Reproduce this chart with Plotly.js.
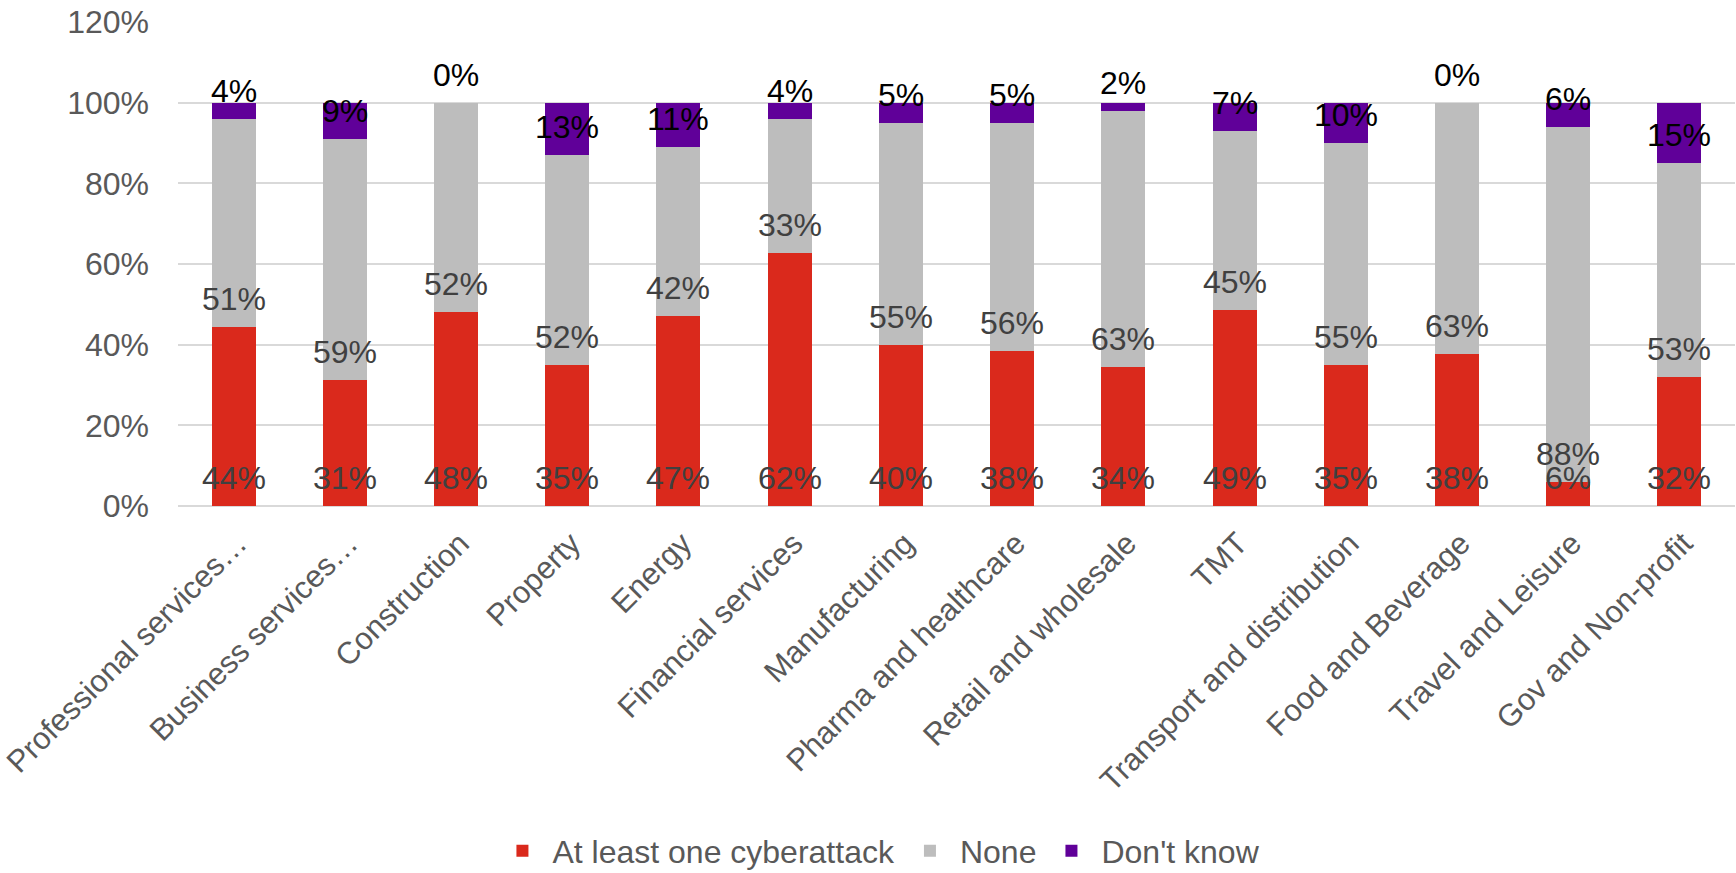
<!DOCTYPE html>
<html>
<head>
<meta charset="utf-8">
<script src="https://cdn.plot.ly/plotly-3.0.1.min.js"></script>
<style>
  html, body { margin: 0; padding: 0; background: #ffffff; }
  #chart { width: 1736px; height: 873px; }
</style>
</head>
<body>
<div id="chart"></div>
<script>
const categories = [
  "Professional services…", "Business services…", "Construction", "Property",
  "Energy", "Financial services", "Manufacturing", "Pharma and healthcare",
  "Retail and wholesale", "TMT", "Transport and distribution", "Food and Beverage",
  "Travel and Leisure", "Gov and Non-profit"
];
const attackValues   = [44, 31, 48, 35, 47, 62, 40, 38, 34, 49, 35, 38, 6, 32];
const noneValues     = [51, 59, 52, 52, 42, 33, 55, 56, 63, 45, 55, 63, 88, 53];
const dontKnowValues = [4, 9, 0, 13, 11, 4, 5, 5, 2, 7, 10, 0, 6, 15];
const seriesNames = ["At least one cyberattack", "None", "Don't know"];
const yTickValues = [0, 20, 40, 60, 80, 100, 120];

const colors = ["#DA291C", "#BDBDBD", "#600099"];
const labelColors = ["#404040", "#404040", "#000000"];
const series = [attackValues, noneValues, dontKnowValues];
const FONT = "Liberation Sans, Arial, sans-serif";

const traces = series.map((vals, k) => ({
  type: "bar",
  name: seriesNames[k],
  x: categories,
  y: vals,
  marker: { color: colors[k] },
  hoverinfo: "skip"
}));

// data labels at the base of each segment (normalised to 100%)
const annotations = [];
categories.forEach((cat, i) => {
  const total = attackValues[i] + noneValues[i] + dontKnowValues[i];
  let base = 0;
  series.forEach((vals, k) => {
    annotations.push({
      x: cat, y: base / total * 100, xref: "x", yref: "y",
      text: vals[i] + "%", showarrow: false,
      yanchor: "middle", yshift: 28,
      font: { family: FONT, size: 32, color: labelColors[k] }
    });
    base += vals[i];
  });
});

const layout = {
  width: 1736, height: 873,
  margin: { l: 178, r: 1, t: 22, b: 367 },
  paper_bgcolor: "#ffffff", plot_bgcolor: "#ffffff",
  barmode: "stack", barnorm: "percent", bargap: 0.604,
  font: { family: FONT, size: 32, color: "#595959" },
  xaxis: {
    type: "category", tickangle: -45, showgrid: false, zeroline: false,
    showline: false, ticks: "", ticklabelstandoff: 12, ticklabelshift: 4,
    tickfont: { size: 31, color: "#595959" }, fixedrange: true, automargin: false
  },
  yaxis: {
    range: [0, 120], tickvals: yTickValues, ticktext: yTickValues.map(v => v + "%"),
    showgrid: true, gridcolor: "#D9D9D9", gridwidth: 2, zeroline: true,
    zerolinecolor: "#D9D9D9", zerolinewidth: 2, showline: false, ticks: "",
    ticklabelstandoff: 28, tickfont: { size: 32, color: "#595959" }, fixedrange: true,
    automargin: false
  },
  showlegend: true,
  legend: {
    orientation: "h", xref: "container", yref: "container",
    x: 0.5063, xanchor: "center", y: 0.0252, yanchor: "middle",
    itemwidth: 50,
    font: { size: 32, color: "#595959" }, traceorder: "normal"
  },
  annotations: annotations
};

Plotly.newPlot("chart", traces, layout, { displayModeBar: false, staticPlot: true });
</script>
</body>
</html>
